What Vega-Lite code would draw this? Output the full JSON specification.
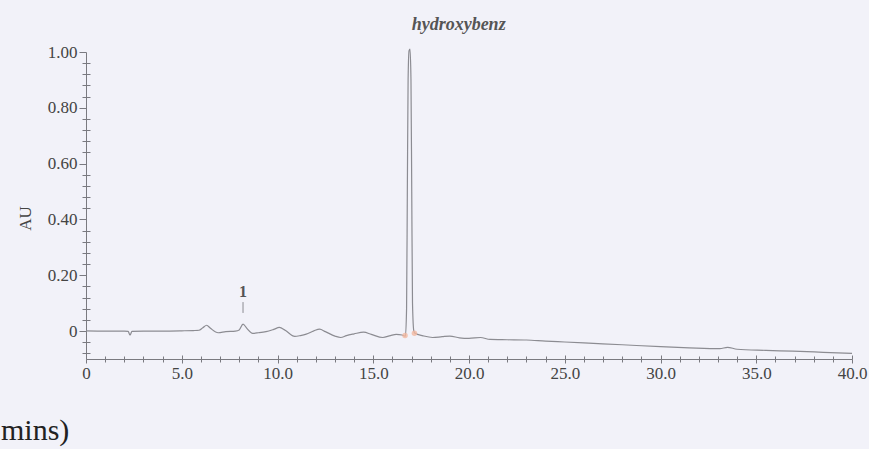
{
  "$schema": "https://vega.github.io/schema/vega-lite/v6.json",
  "width": 766,
  "height": 307,
  "autosize": {"type": "none"},
  "padding": {"left": 86, "top": 52, "right": 17, "bottom": 90},
  "background": "#f2f2f9",
  "config": {
    "view": {"stroke": null},
    "font": "Liberation Serif"
  },
  "title": {
    "text": "mins)",
    "orient": "bottom",
    "anchor": "start",
    "frame": "group",
    "font": "Liberation Serif",
    "fontSize": 30,
    "fontWeight": "normal",
    "color": "#222222",
    "dx": -85,
    "offset": 35
  },
  "datasets": {
    "trace": [
      {"min": 0, "au": 0.001}, {"min": 1.0, "au": 0.0}, {"min": 2.0, "au": 0.0},
      {"min": 2.2, "au": -0.001}, {"min": 2.3, "au": -0.014}, {"min": 2.4, "au": -0.001},
      {"min": 3.0, "au": 0.0}, {"min": 4.0, "au": 0.0}, {"min": 5.0, "au": 0.001},
      {"min": 5.6, "au": 0.002}, {"min": 5.9, "au": 0.003}, {"min": 6.1, "au": 0.012},
      {"min": 6.3, "au": 0.021}, {"min": 6.5, "au": 0.01}, {"min": 6.9, "au": -0.006},
      {"min": 7.3, "au": -0.002}, {"min": 7.8, "au": 0.0}, {"min": 8.0, "au": 0.004},
      {"min": 8.2, "au": 0.025}, {"min": 8.4, "au": 0.01}, {"min": 8.7, "au": -0.008},
      {"min": 9.0, "au": -0.006}, {"min": 9.4, "au": -0.002}, {"min": 9.8, "au": 0.006},
      {"min": 10.1, "au": 0.013}, {"min": 10.4, "au": 0.003}, {"min": 10.9, "au": -0.019},
      {"min": 11.2, "au": -0.016}, {"min": 11.5, "au": -0.011}, {"min": 11.9, "au": 0.001},
      {"min": 12.2, "au": 0.007}, {"min": 12.5, "au": -0.002}, {"min": 13.0, "au": -0.018},
      {"min": 13.3, "au": -0.023}, {"min": 13.6, "au": -0.016}, {"min": 14.0, "au": -0.01},
      {"min": 14.5, "au": -0.004}, {"min": 14.9, "au": -0.012}, {"min": 15.5, "au": -0.023},
      {"min": 15.9, "au": -0.016}, {"min": 16.2, "au": -0.012}, {"min": 16.5, "au": -0.014},
      {"min": 16.68, "au": -0.018}, {"min": 16.74, "au": 0.08}, {"min": 16.78, "au": 0.5},
      {"min": 16.82, "au": 0.9}, {"min": 16.87, "au": 1.005}, {"min": 16.92, "au": 1.01},
      {"min": 16.97, "au": 0.9}, {"min": 17.01, "au": 0.5}, {"min": 17.05, "au": 0.1},
      {"min": 17.12, "au": 0.0}, {"min": 17.18, "au": -0.008}, {"min": 17.6, "au": -0.017},
      {"min": 18.1, "au": -0.023}, {"min": 18.6, "au": -0.02}, {"min": 19.0, "au": -0.018},
      {"min": 19.5, "au": -0.024}, {"min": 20.0, "au": -0.026}, {"min": 20.6, "au": -0.023},
      {"min": 21.1, "au": -0.03}, {"min": 22.0, "au": -0.031}, {"min": 23.0, "au": -0.032},
      {"min": 24.0, "au": -0.036}, {"min": 25.0, "au": -0.039}, {"min": 26.5, "au": -0.044},
      {"min": 28.0, "au": -0.049}, {"min": 30.0, "au": -0.056}, {"min": 31.5, "au": -0.06},
      {"min": 33.1, "au": -0.063}, {"min": 33.5, "au": -0.058}, {"min": 34.0, "au": -0.065},
      {"min": 35.5, "au": -0.069}, {"min": 36.9, "au": -0.072}, {"min": 38.5, "au": -0.076},
      {"min": 40.0, "au": -0.08}
    ],
    "peaks": [
      {"min": 16.9, "au": 1.01, "label": "hydroxybenz"},
      {"min": 8.2, "au": 0.025, "label": "1"}
    ],
    "marker": [
      {"min": 8.2, "lo": 0.065, "hi": 0.104}
    ],
    "baseline": [
      {"min": 16.66, "au": -0.016},
      {"min": 17.15, "au": -0.008}
    ]
  },
  "resolve": {"axis": {"x": "independent", "y": "independent"}},
  "layer": [
    {
      "data": {"name": "trace"},
      "mark": {"type": "line", "color": "#8c8c92", "strokeWidth": 1.2, "interpolate": "monotone"},
      "encoding": {
        "x": {
          "field": "min", "type": "quantitative",
          "scale": {"domain": [0, 40], "nice": false, "zero": false},
          "axis": {
            "orient": "bottom",
            "title": null,
            "values": [0,1,2,3,4,5,6,7,8,9,10,11,12,13,14,15,16,17,18,19,20,21,22,23,24,25,26,27,28,29,30,31,32,33,34,35,36,37,38,39,40],
            "tickCount": 500,
            "labelExpr": "datum.value % 5 === 0 ? (datum.value === 0 ? '0' : format(datum.value, '.1f')) : ''",
            "labelFlush": false,
            "labelOverlap": false,
            "labelFont": "Liberation Serif",
            "labelFontSize": 17,
            "labelColor": "#444444",
            "labelPadding": 2,
            "domainColor": "#7a7a80",
            "domainWidth": 1,
            "tickColor": "#7a7a80",
            "tickSize": {"condition": {"test": "datum.value % 5 === 0", "value": 4}, "value": 3},
            "grid": false
          }
        },
        "y": {
          "field": "au", "type": "quantitative",
          "scale": {"domain": [-0.1, 1.0], "nice": false, "zero": false},
          "axis": {
            "orient": "left",
            "title": "AU",
            "titleFont": "Liberation Serif",
            "titleFontSize": 17,
            "titleFontWeight": "normal",
            "titleColor": "#444444",
            "titlePadding": 13,
            "titleY": 166,
            "values": [-0.08,-0.04,0,0.04,0.08,0.12,0.16,0.2,0.24,0.28,0.32,0.36,0.4,0.44,0.48,0.52,0.56,0.6,0.64,0.68,0.72,0.76,0.8,0.84,0.88,0.92,0.96,1.0],
            "tickCount": 500,
            "labelExpr": "abs(datum.value*5 - round(datum.value*5)) < 0.000001 ? (datum.value === 0 ? '0' : format(datum.value, '.2f')) : ''",
            "labelOverlap": false,
            "labelFont": "Liberation Serif",
            "labelFontSize": 17,
            "labelColor": "#444444",
            "labelPadding": 2,
            "domainColor": "#7a7a80",
            "tickColor": "#7a7a80",
            "tickSize": {"condition": {"test": "abs(datum.value*5 - round(datum.value*5)) < 0.000001", "value": 7}, "value": 4},
            "grid": false
          }
        }
      }
    },
    {
      "data": {"name": "trace"},
      "mark": {"type": "line", "opacity": 0},
      "encoding": {
        "x": {
          "field": "min", "type": "quantitative",
          "axis": {
            "orient": "bottom",
            "title": null,
            "labels": false,
            "domain": false,
            "values": [0,1,2,3,4,5,6,7,8,9,10,11,12,13,14,15,16,17,18,19,20,21,22,23,24,25,26,27,28,29,30,31,32,33,34,35,36,37,38,39,40],
            "tickCount": 500,
            "tickColor": "#7a7a80",
            "tickSize": {"condition": {"test": "datum.value % 5 === 0", "value": -4}, "value": -3},
            "grid": false
          }
        },
        "y": {
          "field": "au", "type": "quantitative",
          "axis": {
            "orient": "left",
            "title": null,
            "labels": false,
            "domain": false,
            "values": [-0.08,-0.04,0.04,0.08,0.12,0.16,0.24,0.28,0.32,0.36,0.44,0.48,0.52,0.56,0.64,0.68,0.72,0.76,0.84,0.88,0.92,0.96],
            "tickCount": 500,
            "tickColor": "#7a7a80",
            "tickSize": -4,
            "grid": false
          }
        }
      }
    },
    {
      "data": {"name": "baseline"},
      "mark": {"type": "point", "filled": true, "color": "#f2b8a0", "size": 30, "opacity": 0.8},
      "encoding": {
        "x": {"field": "min", "type": "quantitative", "axis": null},
        "y": {"field": "au", "type": "quantitative", "axis": null}
      }
    },
    {
      "data": {"name": "marker"},
      "mark": {"type": "rule", "color": "#8c8c92", "strokeWidth": 1},
      "encoding": {
        "x": {"field": "min", "type": "quantitative", "axis": null},
        "y": {"field": "lo", "type": "quantitative", "axis": null},
        "y2": {"field": "hi"}
      }
    },
    {
      "data": {"name": "peaks"},
      "transform": [{"filter": "datum.label === 'hydroxybenz'"}],
      "mark": {"type": "text", "align": "left", "baseline": "alphabetic", "dx": 2, "dy": -19, "font": "Liberation Serif", "fontStyle": "italic", "fontSize": 18, "fontWeight": "bold", "color": "#555555"},
      "encoding": {
        "x": {"field": "min", "type": "quantitative", "axis": null},
        "y": {"field": "au", "type": "quantitative", "axis": null},
        "text": {"field": "label"}
      }
    },
    {
      "data": {"name": "peaks"},
      "transform": [{"filter": "datum.label === '1'"}],
      "mark": {"type": "text", "align": "center", "baseline": "alphabetic", "dx": 0, "dy": -27, "font": "Liberation Serif", "fontSize": 16, "fontWeight": "bold", "color": "#555555"},
      "encoding": {
        "x": {"field": "min", "type": "quantitative", "axis": null},
        "y": {"field": "au", "type": "quantitative", "axis": null},
        "text": {"field": "label"}
      }
    }
  ]
}
